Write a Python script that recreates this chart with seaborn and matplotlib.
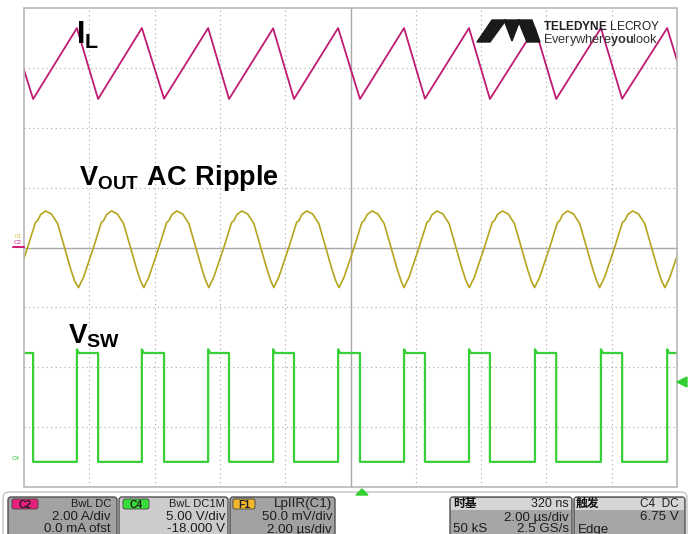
import numpy as np
import pandas as pd
import matplotlib.pyplot as plt
import seaborn as sns
from matplotlib.patches import FancyBboxPatch, Rectangle, Polygon

# ---- values (time in us) ----
# inductor current I_L: triangle vertices (us, A)
il_t = [0.00, 0.28, 1.62, 2.27, 3.61, 4.29, 5.64, 6.28, 7.63, 8.27, 9.62,
        10.29, 11.64, 12.28, 13.63, 14.27, 15.65, 16.30, 17.67, 18.32, 19.70, 20.00]
il_a = [5.93, 4.96, 7.33, 4.96, 7.33, 4.97, 7.33, 4.96, 7.32, 4.96, 7.33,
        4.96, 7.33, 4.97, 7.33, 4.96, 7.33, 4.96, 7.33, 4.97, 7.33, 6.25]

# switch node V_SW: edges (us) and levels (V)
sw_fall = [0.28, 2.27, 4.29, 6.28, 8.27, 10.29, 12.28, 14.27, 16.30, 18.32]
sw_rise = [1.62, 3.61, 5.64, 7.63, 9.62, 11.64, 13.63, 15.65, 17.67, 19.70]
sw_high = 9.19
sw_low = 0.10
sw_peak = 9.50

# output ripple: one cycle (offset from trough, us / mV) and trough times
vo_off = [0.00, 0.06, 0.15, 0.31, 0.46, 0.61, 0.70, 0.77, 0.86, 1.01,
          1.19, 1.38, 1.59, 1.78, 1.90]
vo_mv = [-33.5, -30.0, -25.0, -12.0, 0.0, 13.0, 21.0, 22.5, 27.5, 30.5,
         28.0, 20.0, 0.0, -18.0, -28.0]
vo_trough = [-0.35, 1.67, 3.67, 5.66, 7.65, 9.65, 11.64, 13.64, 15.64, 17.63, 19.63]

# scope channel settings
il_scale = 2.0      # A/div
vo_scale = 50.0     # mV/div
sw_scale = 5.0      # V/div
sw_ofst = -18.0     # V

W, H = 690, 534

sns.set_style('white')
plt.rcParams['font.family'] = ['Liberation Sans', 'Noto Sans CJK SC', 'DejaVu Sans']
plt.rcParams['mathtext.fontset'] = 'custom'
plt.rcParams['mathtext.bf'] = 'Liberation Sans:bold'
plt.rcParams['mathtext.rm'] = 'Liberation Sans'

fig = plt.figure(figsize=(W / 100, H / 100), dpi=100)
ax = fig.add_axes([24 / W, (H - 487) / H, 653 / W, 479 / H])
ax.set_xlim(0, 20)
ax.set_ylim(-4, 4)

# grid
grid_c = '#a8a8a8'
for x in np.arange(2, 20, 2):
    if x != 10:
        ax.axvline(x, color=grid_c, lw=0.8, ls=(0, (1, 3)), zorder=1)
for y in np.arange(-3, 4, 1):
    if y != 0:
        ax.axhline(y, color=grid_c, lw=0.8, ls=(0, (1, 3)), zorder=1)
ax.add_patch(Rectangle((0, -4), 20, 8, fill=False, ec='#b8b8b8', lw=1.2, zorder=4, clip_on=False))

# centre cross with ticks
for s in ['top', 'right']:
    ax.spines[s].set_visible(False)
ax.spines['left'].set_position(('data', 10))
ax.spines['bottom'].set_position(('data', 0))
for s in ['left', 'bottom']:
    ax.spines[s].set_color(grid_c)
    ax.spines[s].set_linewidth(1.0)
ax.set_xticks(np.arange(0, 20.01, 0.4))
ax.set_yticks(np.arange(-4, 4.01, 0.2))
ax.tick_params(direction='inout', length=6, width=0.8, color=grid_c,
               labelbottom=False, labelleft=False)

# I_L trace
il = pd.DataFrame({'t': il_t, 'd': np.array(il_a) / il_scale})
sns.lineplot(data=il, x='t', y='d', sort=False, estimator=None,
             color='#c01a72', lw=1.3, ax=ax, zorder=3)

# V_OUT ripple trace
vt, vv = [], []
for tr in vo_trough:
    for o, m in zip(vo_off, vo_mv):
        vt.append(tr + o)
        vv.append(m)
vo = pd.DataFrame({'t': vt, 'd': np.array(vv) / vo_scale})
sns.lineplot(data=vo, x='t', y='d', sort=False, estimator=None,
             color='#b5a51c', lw=1.2, ax=ax, zorder=3)

# V_SW trace
events = sorted([(f, 'f') for f in sw_fall] + [(r, 'r') for r in sw_rise])
st, sv = [0.0], [sw_high]
for t, k in events:
    if k == 'f':
        st += [t, t]
        sv += [sw_high, sw_low]
    else:
        st += [t, t, t + 0.06]
        sv += [sw_low, sw_peak, sw_high]
st.append(20.0)
sv.append(sv[-1])
sw = pd.DataFrame({'t': st, 'd': (np.array(sv) + sw_ofst) / sw_scale})
sns.lineplot(data=sw, x='t', y='d', sort=False, estimator=None,
             color='#38d038', lw=1.6, ax=ax, zorder=3)
ax.set_xlabel('')
ax.set_ylabel('')

# overlay in pixel coordinates
ov = fig.add_axes([0, 0, 1, 1])
ov.set_xlim(0, W)
ov.set_ylim(H, 0)
ov.axis('off')
ov.patch.set_visible(False)

# trace labels
ov.text(76, 44, r'$\mathbf{I_L}$', fontsize=22, color='black', va='baseline')
ov.text(79, 185, r'$\mathbf{V_{OUT}\ AC\ Ripple}$', fontsize=19.5, color='black', va='baseline')
ov.text(68, 344, r'$\mathbf{V_{SW}}$', fontsize=20, color='black', va='baseline')

# channel markers
ov.plot([13, 24], [247, 247], color='#d0207a', lw=1.5)
ov.text(18, 236, 'F1', fontsize=4.5, color='#d8c040', ha='center', va='center')
ov.text(18, 242, 'C2', fontsize=4.5, color='#c0208a', ha='center', va='center')
ov.text(16, 458, 'C4', fontsize=4.5, color='#30c030', ha='center', va='center')
ov.add_patch(Polygon([(677, 382), (687, 377), (687, 387)], color='#30d030'))

# logo
for poly in ([(492, 20), (506, 20), (490, 42), (477, 42)],
             [(504, 20), (520, 20), (512, 41)],
             [(518, 20), (532, 20), (540, 42), (527, 42)]):
    ov.add_patch(Polygon(poly, color='#1a1a1a'))
ov.text(543, 30, r'$\mathbf{TELEDYNE}$ LECROY', fontsize=8.6, color='#222222')
ov.text(543, 43.5, r'Everywhere$\mathbf{you}$look', fontsize=9.2, color='#333333')

# info bar
ov.add_patch(FancyBboxPatch((3, 492), 684, 60, boxstyle='round,pad=0,rounding_size=6',
                            fc='white', ec='#c4c4c4', lw=1))
ov.add_patch(Polygon([(356, 495), (362, 489), (368, 495)], color='#30d030', zorder=5))


def box(x0, x1, fc, head=None):
    ov.add_patch(FancyBboxPatch((x0, 497), x1 - x0, 50, boxstyle='round,pad=0,rounding_size=3',
                                fc=fc, ec='#505050', lw=1))
    if head:
        ov.add_patch(Rectangle((x0 + 1, 498), x1 - x0 - 2, 12, fc=head, ec='none'))


def tag(x0, x1, label, fc):
    ov.add_patch(FancyBboxPatch((x0, 499), x1 - x0, 10, boxstyle='round,pad=0,rounding_size=2',
                                fc=fc, ec='#404040', lw=0.6))
    ov.text((x0 + x1) / 2, 504.5, label, fontsize=7.5, fontweight='bold', color='#202020',
            ha='center', va='center')


fs = 9.6
ink = '#1e1e1e'
box(8, 117, '#a2a2a2')
tag(12, 38, 'C2', '#e8207e')
ov.text(111, 504, 'BwL DC', fontsize=8, ha='right', va='center', color=ink)
ov.text(111, 517.5, '2.00 A/div', fontsize=fs, ha='right', va='center', color=ink)
ov.text(111, 529.5, '0.0 mA ofst', fontsize=fs, ha='right', va='center', color=ink)

box(119, 228, '#cccccc')
tag(123, 149, 'C4', '#3ade3a')
ov.text(225, 504, 'BwL DC1M', fontsize=8, ha='right', va='center', color=ink)
ov.text(225, 517.5, '5.00 V/div', fontsize=fs, ha='right', va='center', color=ink)
ov.text(225, 529.5, '-18.000 V', fontsize=fs, ha='right', va='center', color=ink)

box(230, 335, '#a2a2a2')
tag(233, 255, 'F1', '#f2b82a')
ov.text(332, 504, 'LpIIR(C1)', fontsize=fs, ha='right', va='center', color=ink)
ov.text(332, 517.5, '50.0 mV/div', fontsize=fs, ha='right', va='center', color=ink)
ov.text(332, 529.5, '2.00 \u00b5s/div', fontsize=fs, ha='right', va='center', color=ink)

box(450, 572, '#a6a6a6', head='#d6d6d6')
ov.text(453, 503.5, '时基', fontsize=8.5, fontweight='bold', ha='left', va='center',
        color='#101010', family=['Noto Sans CJK SC', 'DejaVu Sans'])
ov.text(569, 504, '320 ns', fontsize=9, ha='right', va='center', color=ink)
ov.text(569, 517.5, '2.00 \u00b5s/div', fontsize=fs, ha='right', va='center', color=ink)
ov.text(453, 529.5, '50 kS', fontsize=fs, ha='left', va='center', color=ink)
ov.text(569, 529.5, '2.5 GS/s', fontsize=fs, ha='right', va='center', color=ink)

box(574, 685, '#a6a6a6', head='#d6d6d6')
ov.text(576, 503.5, '触发', fontsize=8.5, fontweight='bold', ha='left', va='center',
        color='#101010', family=['Noto Sans CJK SC', 'DejaVu Sans'])
ov.text(679, 504, 'C4  DC', fontsize=8.5, ha='right', va='center', color=ink)
ov.text(679, 517.5, '6.75 V', fontsize=fs, ha='right', va='center', color=ink)
ov.text(578, 529.5, 'Edge', fontsize=fs, ha='left', va='center', color=ink)

fig.savefig('out.png', dpi=100)
